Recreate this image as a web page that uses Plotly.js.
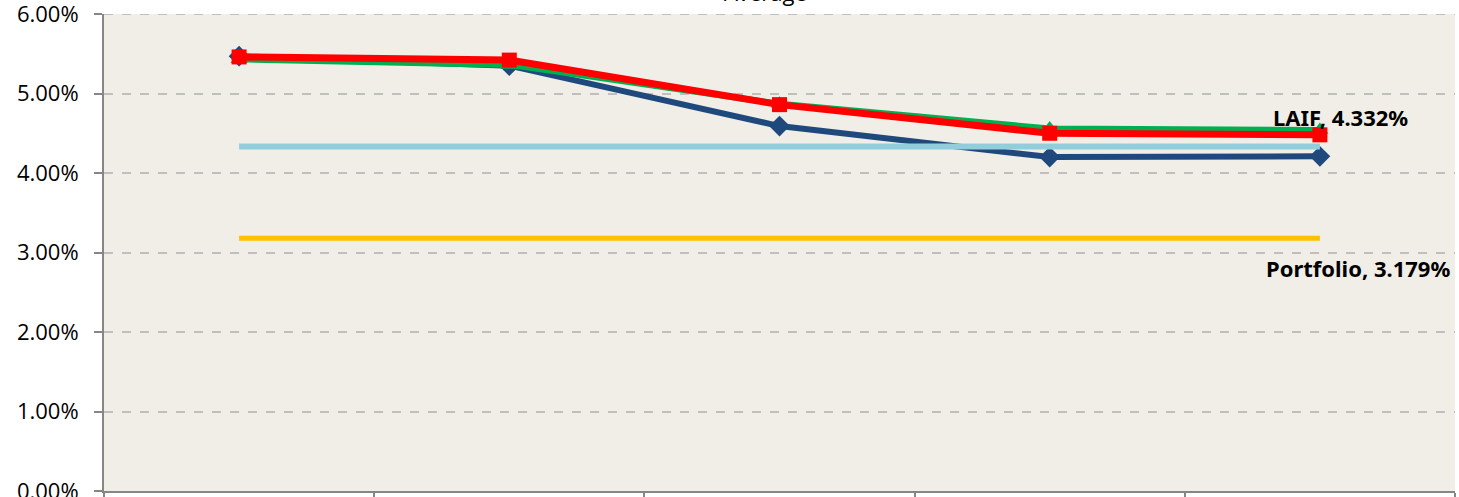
<!DOCTYPE html>
<html>
<head>
<meta charset="utf-8">
<script src="https://cdn.plot.ly/plotly-3.0.1.min.js"></script>
<style>
html,body{margin:0;padding:0;background:#ffffff;}
#chart{width:1459px;height:497px;}
</style>
</head>
<body>
<div id="chart"></div>
<script>
// Categories (x-axis labels are cropped out of the reference)
const categories = ["P1", "P2", "P3", "P4", "P5"];

// Series values (percent)
const seriesBlue  = [5.47, 5.35, 4.59, 4.20, 4.21];
const seriesGreen = [5.43, 5.36, 4.87, 4.56, 4.54];
const seriesRed   = [5.46, 5.42, 4.86, 4.50, 4.48];
const laifValue = 4.332;
const portfolioValue = 3.179;
const laifSeries = categories.map(() => laifValue);
const portfolioSeries = categories.map(() => portfolioValue);

// Tick labels
const yTickVals = [0, 1, 2, 3, 4, 5, 6];
const yTickText = ["0.00%", "1.00%", "2.00%", "3.00%", "4.00%", "5.00%", "6.00%"];

const traces = [
  {x: categories, y: seriesBlue, type: "scatter", mode: "lines+markers",
   line: {color: "#1F497D", width: 6}, marker: {symbol: "diamond", size: 16, color: "#1F497D"}},
  {x: categories, y: seriesGreen, type: "scatter", mode: "lines+markers",
   line: {color: "#00B050", width: 6}, marker: {symbol: "triangle-up", size: 15, color: "#00B050"}},
  {x: categories, y: seriesRed, type: "scatter", mode: "lines+markers",
   line: {color: "#FF0000", width: 7}, marker: {symbol: "square", size: 15, color: "#FF0000"}},
  {x: categories, y: laifSeries, type: "scatter", mode: "lines",
   line: {color: "#92CDDC", width: 6}},
  {x: categories, y: portfolioSeries, type: "scatter", mode: "lines",
   line: {color: "#FFC000", width: 5}}
];

const layout = {
  width: 1459, height: 497,
  margin: {l: 104, r: 4, t: 14, b: 6},
  paper_bgcolor: "#ffffff",
  plot_bgcolor: "#F0EEE6",
  showlegend: false,
  font: {family: "Open Sans, sans-serif", color: "#000000"},
  xaxis: {
    type: "category",
    range: [-0.5, 4.5],
    showgrid: false,
    showline: true, linecolor: "#868686", linewidth: 2,
    ticks: "outside", tickson: "boundaries", ticklen: 6, tickcolor: "#868686", tickwidth: 2,
    showticklabels: false, zeroline: false, fixedrange: true
  },
  yaxis: {
    range: [0, 6],
    tickvals: yTickVals, ticktext: yTickText,
    tickfont: {size: 22, family: "Open Sans, sans-serif", color: "#000000"},
    ticklabeloverflow: "allow",
    ticklabelstandoff: 11,
    showgrid: true, gridcolor: "#BFBFBF", griddash: "dash", gridwidth: 2,
    showline: true, linecolor: "#868686", linewidth: 2,
    ticks: "outside", ticklen: 8, tickcolor: "#868686", tickwidth: 2,
    zeroline: false, fixedrange: true
  },
  shapes: [
    {type: "line", xref: "paper", yref: "y", x0: 0, x1: 1, y0: 6, y1: 6,
     line: {color: "#BFBFBF", width: 2, dash: "dash"}, layer: "below"}
  ],
  annotations: [
    {x: categories[4], y: laifValue, xref: "x", yref: "y",
     text: "<b>LAIF, 4.332%</b>", showarrow: false,
     font: {size: 22, family: "Noto Sans, sans-serif", color: "#000000"},
     xshift: 21, yshift: 30},
    {x: categories[4], y: portfolioValue, xref: "x", yref: "y",
     text: "<b>Portfolio, 3.179%</b>", showarrow: false,
     font: {size: 22, family: "Noto Sans, sans-serif", color: "#000000"},
     xshift: 38, yshift: -30},
    {x: 0.49, y: 1, xref: "paper", yref: "paper", yanchor: "bottom",
     text: "Average", showarrow: false, yshift: 5,
     font: {size: 22, family: "Open Sans, sans-serif", color: "#000000"}}
  ]
};

Plotly.newPlot("chart", traces, layout, {displayModeBar: false, staticPlot: true});
</script>
</body>
</html>
